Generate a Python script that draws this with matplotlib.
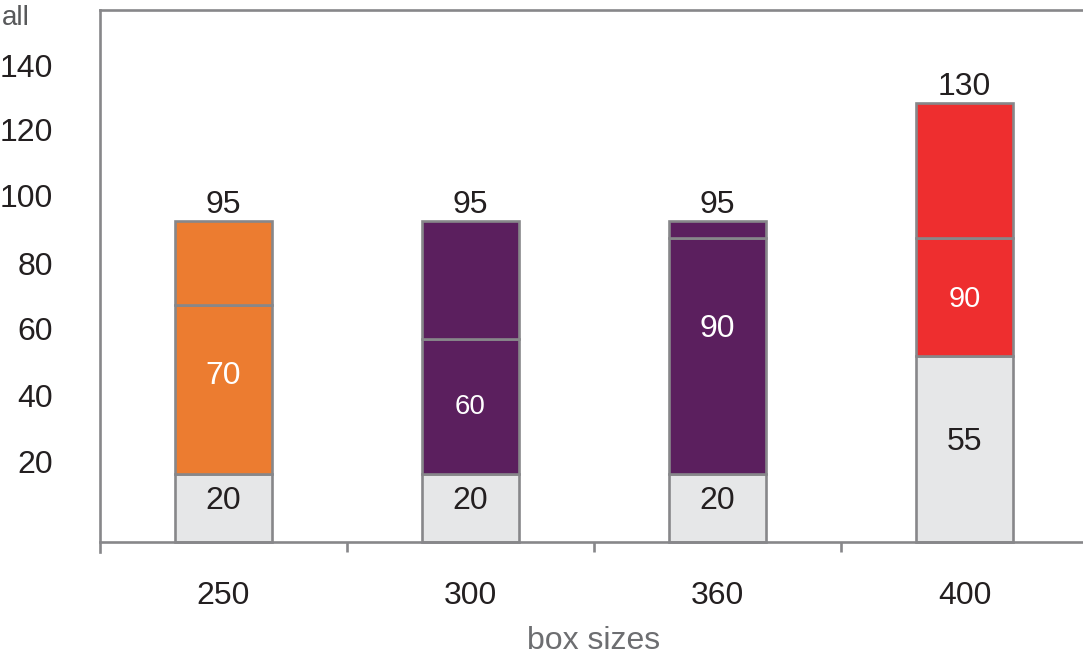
import numpy as np
import matplotlib.pyplot as plt

plt.rcParams['font.family'] = ['Liberation Sans Narrow', 'Liberation Sans', 'DejaVu Sans']

# data (cumulative levels per bar)
sizes = ['250', '300', '360', '400']
level1 = [20, 20, 20, 55]
level2 = [70, 60, 90, 90]
level3 = [95, 95, 95, 130]
mid_labels = ['70', '60', '90', '90']
mid_label_y = [49, 40, 63, 72]
mid_label_size = [23, 20, 23, 21]
colors = ['#EC7C30', '#5B1F5E', '#5B1F5E', '#EE2E2F']
ytick_labels = ['20', '40', '60', '80', '100', '120', '140']
ytick_pos = [23.7, 43.2, 63.0, 82.5, 102.4, 121.9, 141.1]

grey = '#E6E7E8'
edge = '#87878A'
txt = '#231F20'

fig = plt.figure(figsize=(10.83, 6.59), dpi=100)
ax = fig.add_axes([100 / 1083, 107 / 659, 988 / 1083, 542 / 659])

x = np.arange(len(sizes))
b1 = np.array(level1)
b2 = np.array(level2) - b1
b3 = np.array(level3) - np.array(level2)
w = 0.39
ax.bar(x, b1, w, color=grey, edgecolor=edge, linewidth=1.9)
ax.bar(x, b2, w, bottom=b1, color=colors, edgecolor=edge, linewidth=1.9)
ax.bar(x, b3, w, bottom=level2, color=colors, edgecolor=edge, linewidth=1.9)

for i in range(len(sizes)):
    ax.text(x[i], level1[i] / 2 + 2, str(level1[i]), ha='center', va='center',
            fontsize=23, color=txt)
    ax.text(x[i], mid_label_y[i], mid_labels[i], ha='center', va='center',
            fontsize=mid_label_size[i], color='white')
    ax.text(x[i], level3[i] + 0.3, str(level3[i]), ha='center', va='bottom',
            fontsize=23, color=txt)

ax.set_xlim(-0.5, 3.5)
ax.set_ylim(-3, 157.4)

for s in ['top', 'left', 'bottom']:
    ax.spines[s].set_color(edge)
    ax.spines[s].set_linewidth(1.9)
ax.spines['right'].set_visible(False)
ax.spines['bottom'].set_position(('data', 0))

ax.set_xticks(x)
ax.set_xticklabels(sizes)
ax.set_xticks([0.5, 1.5, 2.5], minor=True)
ax.tick_params(axis='x', which='major', length=0, pad=28, labelsize=23, labelcolor=txt)
ax.tick_params(axis='x', which='minor', length=7, width=1.9, color=edge)

ax.set_yticks(ytick_pos)
ax.set_yticklabels(ytick_labels)
ax.tick_params(axis='y', length=0, pad=34, labelsize=23, labelcolor=txt)

ax.set_xlabel('box sizes', fontsize=23, color='#6D6E71', labelpad=11)
fig.text(0.002, 0.992, 'all', fontsize=20, color='#58595B', ha='left', va='top')

fig.savefig('out.png', dpi=100)
